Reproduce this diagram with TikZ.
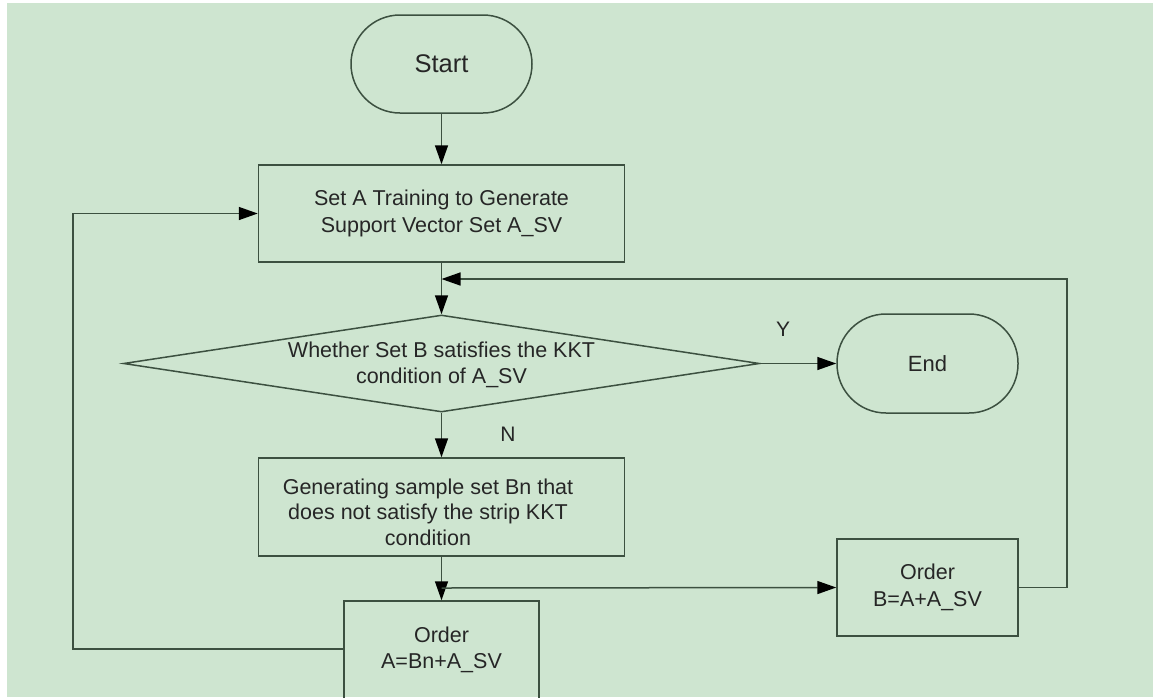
\documentclass[tikz,border=0pt]{standalone}
\usepackage{fontspec}
\setmainfont{Liberation Sans}
\usetikzlibrary{arrows.meta,shapes.geometric}
\definecolor{bggreen}{RGB}{206,229,208}
\definecolor{linecol}{RGB}{60,80,64}
\definecolor{txtcol}{RGB}{38,38,38}
\tikzset{
  fc/.style={draw=linecol,line width=1.5pt},
  boxshape/.style={fc,rectangle,inner sep=0pt,align=center,text=txtcol,font=\fontsize{21.5}{26.5}\selectfont},
  term/.style={fc,rectangle,rounded corners=49pt,inner sep=0pt,text=txtcol},
  decision/.style={fc,diamond,inner sep=0pt},
  txt/.style={inner sep=0pt,align=center,text=txtcol,font=\fontsize{21.5}{25.5}\selectfont},
  conn/.style={draw=linecol,line width=1.5pt,-{Triangle[length=19pt,width=13pt,color=black]}},
  plainconn/.style={draw=linecol,line width=1.5pt}
}
\begin{document}
\begin{tikzpicture}[x=1pt,y=-1pt]
\useasboundingbox (0,0) rectangle (1153,697);
\fill[white] (0,0) rectangle (1153,697);
\fill[bggreen] (7,3) rectangle (1153,697);

\node[term,minimum width=181pt,minimum height=98pt,font=\fontsize{25.5}{30}\selectfont] (start) at (441.5,64) {Start};
\node[boxshape,minimum width=366pt,minimum height=97pt] (box1) at (441.5,213.5) {Set A Training to Generate\\Support Vector Set A\_SV};
\node[decision,minimum width=636pt,minimum height=97pt] (dec) at (441.5,363.5) {};
\node[txt] (dectxt) at (441.5,365) {Whether Set B satisfies the KKT\\condition of A\_SV};
\node[term,minimum width=181pt,minimum height=99pt,font=\fontsize{22}{26}\selectfont] (end) at (927.5,363.5) {End};
\node[boxshape,minimum width=366pt,minimum height=98pt] (bn) at (441.5,507) {};
\node[txt] (bntxt) at (428,512) {Generating sample set Bn that\\does not satisfy the strip KKT\\condition};
\node[boxshape,minimum width=181pt,minimum height=97pt] (boxB) at (927.5,587.5) {Order\\B=A+A\_SV};
\node[boxshape,minimum width=195pt,minimum height=98pt] (boxA) at (441.5,650) {Order\\A=Bn+A\_SV};

\node[txt,font=\fontsize{21}{24}\selectfont] (ylab) at (783,329) {Y};
\node[txt,font=\fontsize{21}{24}\selectfont] (nlab) at (508,434) {N};

\coordinate (j1) at (441.5,279);
\coordinate (j2) at (441.5,588);
\coordinate (r1) at (1067,587.5);
\coordinate (r2) at (1067,279);
\coordinate (l1) at (73,649);
\coordinate (l2) at (73,213.5);

\draw[conn] (start.south) -- (box1.north);
\draw[conn] (box1.south) -- (dec.north);
\draw[conn] (dec.east) -- (end.west);
\draw[conn] (dec.south) -- (bn.north);
\draw[conn] (bn.south) -- (boxA.north);
\draw[conn] (j2) -- (boxB.west);
\draw[conn] (boxB.east) -- (r1) -- (r2) -- (j1);
\draw[conn] (boxA.west |- l1) -- (l1) -- (l2) -- (box1.west);
\end{tikzpicture}
\end{document}
